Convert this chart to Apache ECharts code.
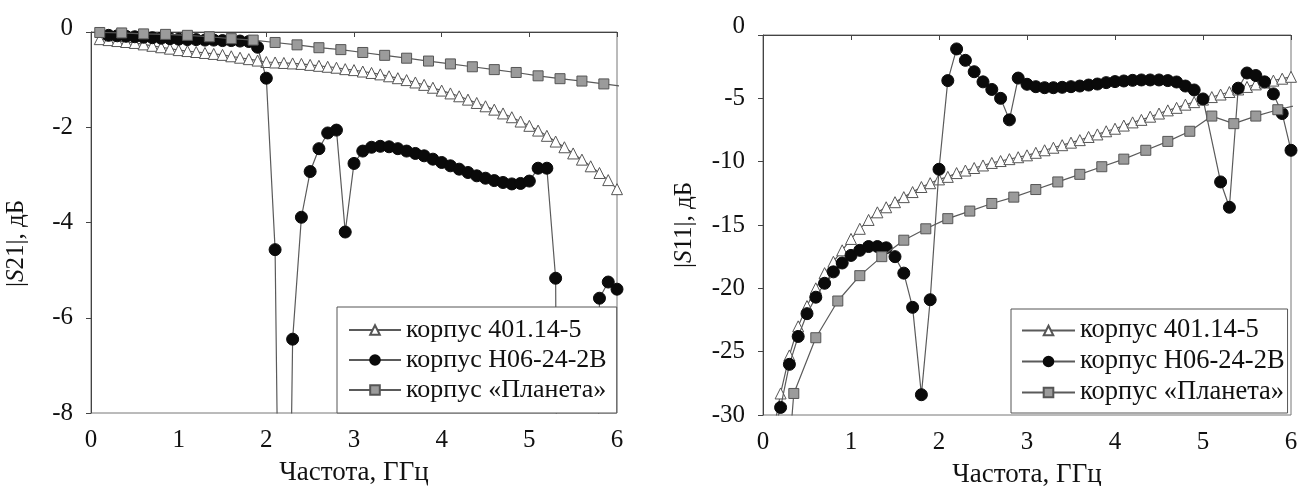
<!DOCTYPE html>
<html>
<head>
<meta charset="utf-8">
<script src="https://cdn.jsdelivr.net/npm/echarts@6/dist/echarts.min.js"></script>
<style>
html,body{margin:0;padding:0;background:#fff;}
#chart{width:1298px;height:486px;}
</style>
</head>
<body>
<div id="chart"></div>
<script>
// ---------- DATA ----------
const seriesNames = ['корпус 401.14-5', 'корпус Н06-24-2В', 'корпус «Планета»'];

// Left chart |S21|
const s21TriFreq = [0.1,0.2,0.3,0.4,0.5,0.6,0.7,0.8,0.9,1.0,1.1,1.2,1.3,1.4,1.5,1.6,1.7,1.8,1.9,2.0,
  2.1,2.2,2.3,2.4,2.5,2.6,2.7,2.8,2.9,3.0,3.1,3.2,3.3,3.4,3.5,3.6,3.7,3.8,3.9,4.0,
  4.1,4.2,4.3,4.4,4.5,4.6,4.7,4.8,4.9,5.0,5.1,5.2,5.3,5.4,5.5,5.6,5.7,5.8,5.9,6.0];
const s21TriVal = [-0.15,-0.17,-0.19,-0.21,-0.23,-0.26,-0.29,-0.32,-0.35,-0.38,-0.40,-0.42,-0.44,-0.46,-0.48,-0.51,-0.54,-0.57,-0.60,-0.63,
  -0.64,-0.65,-0.66,-0.67,-0.69,-0.71,-0.73,-0.75,-0.78,-0.80,-0.83,-0.86,-0.89,-0.93,-0.97,-1.01,-1.06,-1.11,-1.17,-1.23,
  -1.29,-1.35,-1.42,-1.49,-1.56,-1.63,-1.71,-1.79,-1.88,-1.97,-2.07,-2.18,-2.30,-2.42,-2.55,-2.68,-2.82,-2.96,-3.11,-3.30];

const s21CirFreq = [0.2,0.3,0.4,0.5,0.6,0.7,0.8,0.9,1.0,1.1,1.2,1.3,1.4,1.5,1.6,1.7,1.8,1.9,2.0,
  2.1,2.2,2.3,2.4,2.5,2.6,2.7,2.8,2.9,3.0,3.1,3.2,3.3,3.4,3.5,3.6,3.7,3.8,3.9,4.0,
  4.1,4.2,4.3,4.4,4.5,4.6,4.7,4.8,4.9,5.0,5.1,5.2,5.3,5.4,5.5,5.6,5.7,5.8,5.9,6.0];
const s21CirVal = [-0.07,-0.08,-0.09,-0.10,-0.11,-0.12,-0.13,-0.14,-0.15,-0.16,-0.16,-0.17,-0.17,-0.18,-0.18,-0.19,-0.20,-0.32,-0.97,
  -4.57,-20,-6.45,-3.89,-2.93,-2.45,-2.12,-2.06,-4.20,-2.76,-2.50,-2.42,-2.40,-2.41,-2.45,-2.50,-2.55,-2.60,-2.67,-2.74,
  -2.81,-2.88,-2.95,-3.02,-3.07,-3.12,-3.16,-3.19,-3.18,-3.13,-2.86,-2.86,-5.17,-40,-40,-35,-30,-5.59,-5.25,-5.40];

const s21SqFreq = [0.1,0.35,0.6,0.85,1.1,1.35,1.6,1.85,2.1,2.35,2.6,2.85,3.1,3.35,3.6,3.85,4.1,4.35,4.6,4.85,5.1,5.35,5.6,5.85,6.1];
const s21SqVal = [-0.01,-0.02,-0.04,-0.05,-0.07,-0.10,-0.14,-0.17,-0.22,-0.27,-0.33,-0.37,-0.43,-0.49,-0.55,-0.61,-0.67,-0.73,-0.79,-0.85,-0.92,-0.98,-1.03,-1.09,-1.15];

// Right chart |S11|
const s11TriFreq = [0.1,0.2,0.3,0.4,0.5,0.6,0.7,0.8,0.9,1.0,1.1,1.2,1.3,1.4,1.5,1.6,1.7,1.8,1.9,2.0,
  2.1,2.2,2.3,2.4,2.5,2.6,2.7,2.8,2.9,3.0,3.1,3.2,3.3,3.4,3.5,3.6,3.7,3.8,3.9,4.0,
  4.1,4.2,4.3,4.4,4.5,4.6,4.7,4.8,4.9,5.0,5.1,5.2,5.3,5.4,5.5,5.6,5.7,5.8,5.9,6.0];
const s11TriVal = [-32,-28.3,-25.3,-23.0,-21.4,-20.0,-18.8,-17.9,-17.0,-16.1,-15.3,-14.6,-14.0,-13.6,-13.2,-12.8,-12.4,-12.0,-11.7,-11.4,
  -11.2,-10.9,-10.7,-10.5,-10.3,-10.1,-9.95,-9.8,-9.65,-9.5,-9.3,-9.1,-8.9,-8.7,-8.5,-8.3,-8.05,-7.85,-7.6,-7.4,
  -7.15,-6.9,-6.7,-6.45,-6.2,-5.95,-5.75,-5.5,-5.3,-5.1,-4.9,-4.7,-4.5,-4.3,-4.1,-3.9,-3.75,-3.6,-3.45,-3.3];

const s11CirFreq = [0.1,0.2,0.3,0.4,0.5,0.6,0.7,0.8,0.9,1.0,1.1,1.2,1.3,1.4,1.5,1.6,1.7,1.8,1.9,2.0,
  2.1,2.2,2.3,2.4,2.5,2.6,2.7,2.8,2.9,3.0,3.1,3.2,3.3,3.4,3.5,3.6,3.7,3.8,3.9,4.0,
  4.1,4.2,4.3,4.4,4.5,4.6,4.7,4.8,4.9,5.0,5.2,5.3,5.4,5.5,5.6,5.7,5.8,5.9,6.0];
const s11CirVal = [-32,-29.4,-26.0,-23.8,-22.0,-20.7,-19.6,-18.7,-18.0,-17.4,-17.0,-16.7,-16.7,-16.8,-17.5,-18.8,-21.5,-28.4,-20.9,-10.6,
  -3.6,-1.1,-2.0,-2.9,-3.7,-4.3,-5.0,-6.7,-3.4,-3.89,-4.08,-4.16,-4.16,-4.13,-4.08,-4.03,-3.95,-3.87,-3.76,-3.68,
  -3.63,-3.58,-3.55,-3.55,-3.55,-3.6,-3.71,-4.03,-4.34,-5.05,-11.6,-13.6,-4.2,-3.0,-3.2,-3.7,-4.65,-6.2,-9.1];

const s11SqFreq = [0.1,0.35,0.6,0.85,1.1,1.35,1.6,1.85,2.1,2.35,2.6,2.85,3.1,3.35,3.6,3.85,4.1,4.35,4.6,4.85,5.1,5.35,5.6,5.85,6.1];
const s11SqVal = [-50,-28.3,-23.9,-21.0,-19.0,-17.5,-16.2,-15.3,-14.5,-13.9,-13.3,-12.8,-12.2,-11.6,-11.0,-10.4,-9.8,-9.1,-8.4,-7.6,-6.4,-7.0,-6.4,-5.9,-5.5];

const xRange = {min: 0, max: 6, interval: 1};
const yRangeS21 = {min: -8, max: 0, interval: 2};
const yRangeS11 = {min: -30, max: 0, interval: 5};

// ---------- CHART ----------
const FONT = 'Liberation Serif';
function pairs(xs, ys) { return xs.map((x, i) => [x, ys[i]]); }

const lineColor = '#5a5a5a';
const styles = [
  {symbol: 'triangle', symbolSize: 11, itemStyle: {color: '#ffffff', borderColor: '#555', borderWidth: 1}},
  {symbol: 'circle', symbolSize: 12, itemStyle: {color: '#0a0a0a', borderColor: '#0a0a0a', borderWidth: 1}},
  {symbol: 'rect', symbolSize: 10, itemStyle: {color: '#9b9b9b', borderColor: '#555', borderWidth: 1}}
];

function mkSeries(idx, k, data) {
  return Object.assign({
    type: 'line', name: seriesNames[k], xAxisIndex: idx, yAxisIndex: idx,
    data: data, showSymbol: true, showAllSymbol: true, clip: true, animation: false,
    lineStyle: {color: lineColor, width: 1.2}, z: 2 + k
  }, styles[k]);
}

function xAxis(idx) {
  return {
    type: 'value', gridIndex: idx, min: xRange.min, max: xRange.max, interval: xRange.interval,
    name: 'Частота, ГГц', nameLocation: 'middle', nameGap: 46, nameMoveOverlap: false,
    nameTextStyle: {fontFamily: FONT, fontSize: 27, color: '#111'},
    axisLine: {show: true, lineStyle: {color: '#444', width: 1}},
    axisTick: {show: true, inside: false, length: 5, lineStyle: {color: '#444'}},
    axisLabel: {fontFamily: FONT, fontSize: 25, color: '#111', margin: 15},
    splitLine: {show: false}
  };
}
function yAxis(idx, range, label, gap, pad, topPad) {
  return {
    type: 'value', gridIndex: idx, min: range.min, max: range.max, interval: range.interval,
    name: label, nameLocation: 'middle', nameGap: gap, nameRotate: 90, nameMoveOverlap: false,
    nameTextStyle: {fontFamily: FONT, fontSize: 25, color: '#111', padding: pad,
      rich: {i: {fontFamily: FONT, fontSize: 25, fontStyle: 'italic', color: '#111'}}},
    axisLine: {show: true, lineStyle: {color: '#444', width: 1}},
    axisTick: {show: true, inside: false, length: 5, lineStyle: {color: '#444'}},
    axisLabel: {fontFamily: FONT, fontSize: 25, color: '#111', margin: 18,
      formatter: function (v) { return v === range.max ? '{t|' + v + '}' : String(v); },
      rich: {t: {fontFamily: FONT, fontSize: 25, color: '#111', padding: [0, 0, topPad, 0]}}},
    splitLine: {show: false}
  };
}
function legend(left, top, pad, gap, w, fs) {
  return {
    orient: 'vertical', left: left, top: top, padding: pad, itemGap: gap,
    itemWidth: w, itemHeight: 12,
    backgroundColor: '#ffffff', borderColor: '#555', borderWidth: 1, borderRadius: 0,
    textStyle: {fontFamily: FONT, fontSize: fs, color: '#111'},
    data: seriesNames, selectedMode: false, z: 10
  };
}

const option = {
  backgroundColor: '#ffffff',
  animation: false,
  grid: [
    {left: 91, top: 32, width: 526, height: 381, containLabel: false, outerBoundsMode: 'none',
     show: true, borderColor: '#777', borderWidth: 1, backgroundColor: 'transparent'},
    {left: 763, top: 35, width: 528, height: 380, containLabel: false, outerBoundsMode: 'none',
     show: true, borderColor: '#777', borderWidth: 1, backgroundColor: 'transparent'}
  ],
  xAxis: [xAxis(0), xAxis(1)],
  yAxis: [
    yAxis(0, yRangeS21, '|{i|S}21|, дБ', 62, [0, 42, 0, 0], 8),
    yAxis(1, yRangeS11, '|{i|S}11|, дБ', 66, [0, 0, 0, 0], 18)
  ],
  legend: [
    legend(337, 307, [10, 10, 10, 11], 4, 52, 26),
    legend(1011, 309, [8, 3, 7, 10], 4, 53, 26.5)
  ],
  series: [
    mkSeries(0, 0, pairs(s21TriFreq, s21TriVal)),
    mkSeries(0, 1, pairs(s21CirFreq, s21CirVal)),
    mkSeries(0, 2, pairs(s21SqFreq, s21SqVal)),
    mkSeries(1, 0, pairs(s11TriFreq, s11TriVal)),
    mkSeries(1, 1, pairs(s11CirFreq, s11CirVal)),
    mkSeries(1, 2, pairs(s11SqFreq, s11SqVal))
  ]
};

const chart = echarts.init(document.getElementById('chart'), null, {renderer: 'canvas'});
chart.setOption(option);
</script>
</body>
</html>
